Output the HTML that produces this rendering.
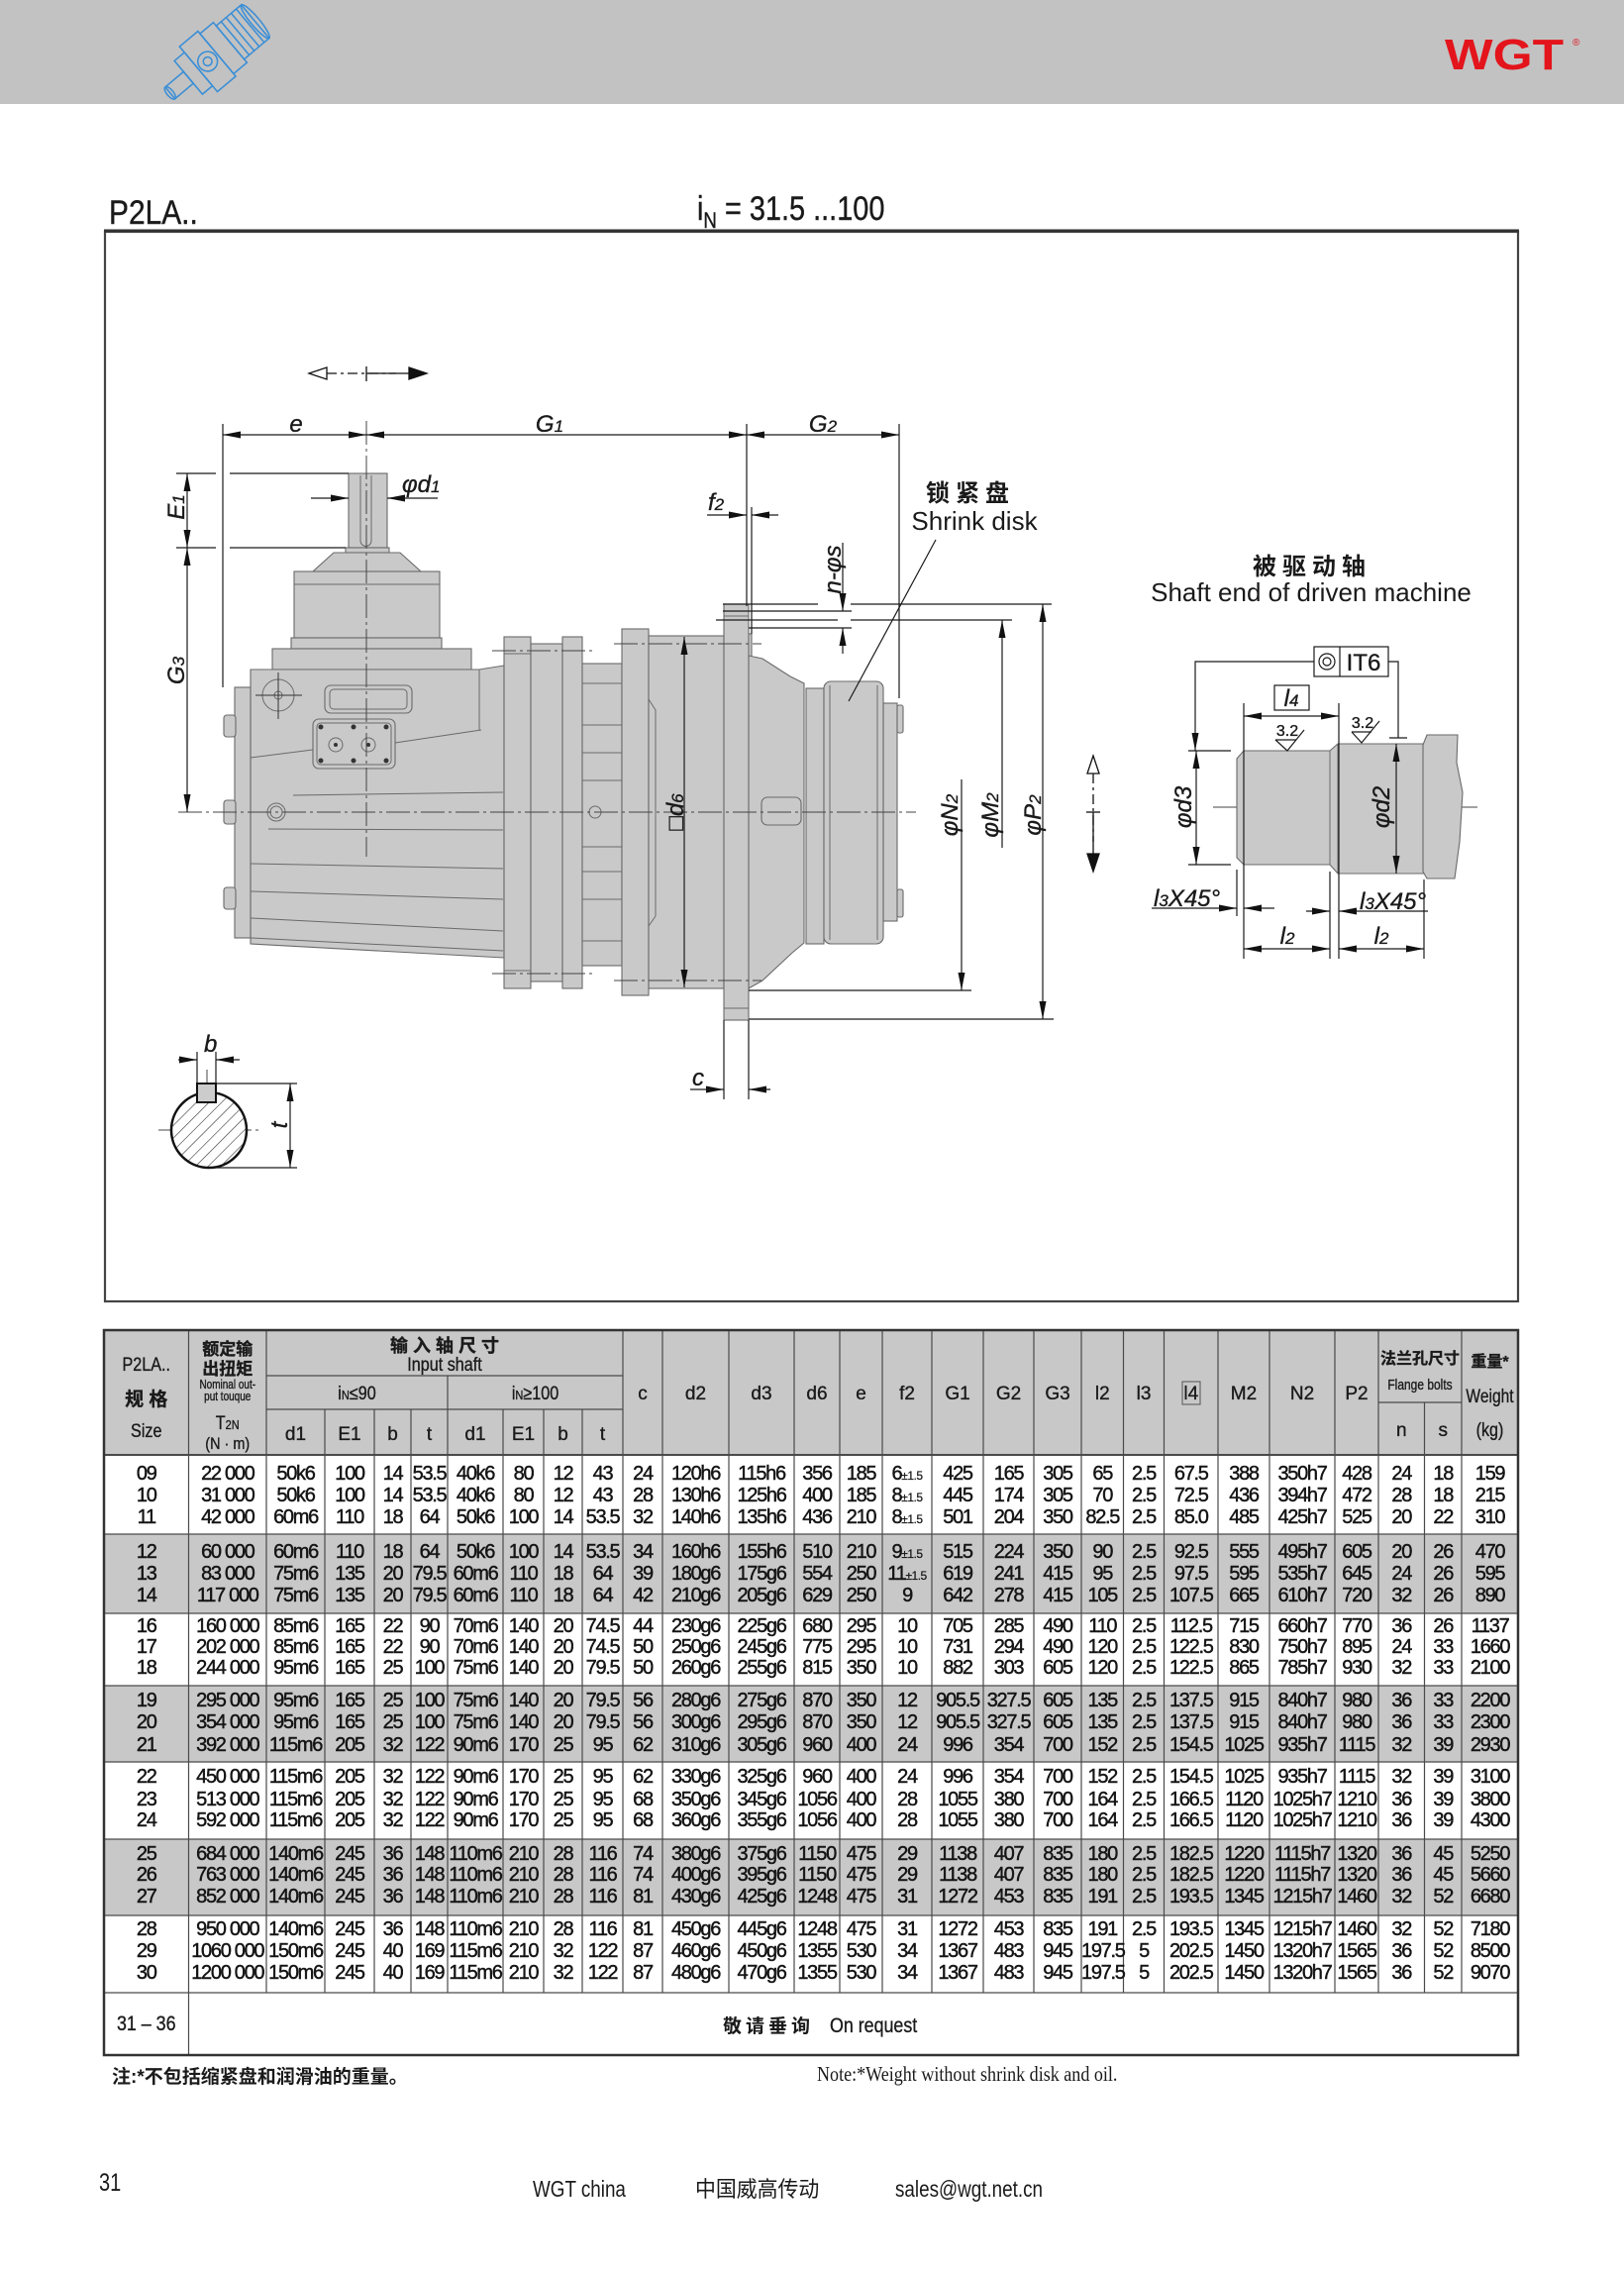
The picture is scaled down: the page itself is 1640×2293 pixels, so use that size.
<!DOCTYPE html>
<html><head><meta charset="utf-8">
<style>
html,body{margin:0;padding:0;background:#fff}
#pg{position:relative;width:1640px;height:2293px;overflow:hidden;background:#fff}
svg{position:absolute;left:0;top:0}
text{font-family:"Liberation Sans","Noto Sans CJK SC",sans-serif;fill:#1a1a1a}
.dt{font-style:italic;font-size:24px}
.hd text{stroke:#1a1a1a;stroke-width:0.35px}
.p{fill:#c9c9c9;stroke:#6a6a6a;stroke-width:1.1}
.row{position:absolute;left:105px;width:1428px;display:flex;height:22px;line-height:22px;font-family:"Liberation Sans",sans-serif;font-size:20px;letter-spacing:-1.3px;color:#141414;-webkit-text-stroke:0.45px #141414}
.row span{flex:none;text-align:center;white-space:nowrap}
.row small{font-size:12px;letter-spacing:-0.5px;-webkit-text-stroke:0.2px #141414}
.row span:nth-child(1){width:85.5px}.row span:nth-child(2){width:78.5px}.row span:nth-child(3){width:59px}.row span:nth-child(4){width:50px}
.row span:nth-child(5){width:37px}.row span:nth-child(6){width:37px}.row span:nth-child(7){width:56px}.row span:nth-child(8){width:41px}
.row span:nth-child(9){width:39px}.row span:nth-child(10){width:41px}.row span:nth-child(11){width:40px}.row span:nth-child(12){width:67px}
.row span:nth-child(13){width:66px}.row span:nth-child(14){width:46px}.row span:nth-child(15){width:43px}.row span:nth-child(16){width:50px}
.row span:nth-child(17){width:52px}.row span:nth-child(18){width:51px}.row span:nth-child(19){width:48px}.row span:nth-child(20){width:42.5px}
.row span:nth-child(21){width:41px}.row span:nth-child(22){width:54.5px}.row span:nth-child(23){width:52px}.row span:nth-child(24){width:66px}
.row span:nth-child(25){width:44px}.row span:nth-child(26){width:46.5px}.row span:nth-child(27){width:37.5px}.row span:nth-child(28){width:57px}
</style></head><body><div id="pg">
<svg width="1640" height="2293" viewBox="0 0 1640 2293">
<defs>
<marker id="ar" viewBox="0 0 18 7" refX="18" refY="3.5" markerWidth="18" markerHeight="7" markerUnits="userSpaceOnUse" orient="auto-start-reverse"><path d="M0,0L18,3.5L0,7z" fill="#111"/></marker>
<pattern id="hatch" patternUnits="userSpaceOnUse" width="9" height="9" patternTransform="rotate(45)"><rect width="9" height="9" fill="#fff"/><line x1="0" y1="0" x2="0" y2="9" stroke="#333" stroke-width="1.2"/></pattern>
</defs>

<!-- header band -->
<rect x="0" y="0" width="1640" height="105" fill="#c2c2c2"/>
<g transform="translate(224,50) rotate(-40) scale(1.1)" stroke="#3a8ed6" stroke-width="1.4" fill="none">
<rect x="-62" y="-7" width="22" height="14"/><ellipse cx="-62" cy="0" rx="3" ry="7"/>
<rect x="-40" y="-20" width="12" height="40"/><rect x="-28" y="-27" width="22" height="54"/>
<circle cx="-17" cy="0" r="9"/><circle cx="-17" cy="0" r="4"/><rect x="-6" y="-24" width="16" height="48"/>
<rect x="10" y="-20" width="30" height="40"/><line x1="16" y1="-20" x2="16" y2="20"/><line x1="22" y1="-20" x2="22" y2="20"/><line x1="28" y1="-20" x2="28" y2="20"/><line x1="34" y1="-20" x2="34" y2="20"/>
<ellipse cx="40" cy="0" rx="4" ry="20"/>
</g>
<text transform="translate(1459,70) scale(1.17,1)" font-size="44" font-weight="bold" style="fill:#e3141b">WGT</text>
<text x="1588" y="46" font-size="10" style="fill:#e3141b">®</text>

<!-- title -->
<text transform="translate(110,226) scale(0.88,1)" font-size="34" stroke="#1a1a1a" stroke-width="0.4">P2LA..</text>
<text transform="translate(704,222) scale(0.85,1)" font-size="34" stroke="#1a1a1a" stroke-width="0.4">i<tspan font-size="22" dy="8">N</tspan><tspan dy="-8"> = 31.5 ...100</tspan></text>

<!-- drawing frame -->
<rect x="106" y="234" width="1427" height="1080" fill="none" stroke="#444" stroke-width="2.2"/>
<line x1="105" y1="233" x2="1534" y2="233" stroke="#333" stroke-width="3"/>

<!-- ===== gearbox ===== -->
<g class="p">
<rect x="352" y="478" width="39" height="75"/>
<rect x="349" y="553" width="44" height="5"/>
<polygon points="337,558 404,558 425,577 316,577"/>
<rect x="297" y="577" width="147" height="67"/>
<rect x="294" y="644" width="152" height="11"/>
<rect x="275" y="655" width="201" height="21"/>
<polygon points="253,676 484,676 509,672 509,967 253,953"/>
<rect x="237" y="694" width="16" height="253"/>
<rect x="226" y="722" width="12" height="22" rx="3"/>
<rect x="226" y="808" width="12" height="24" rx="3"/>
<rect x="226" y="896" width="12" height="22" rx="3"/>
<rect x="509" y="643" width="27" height="355"/>
<rect x="536" y="650" width="32" height="341"/>
<rect x="568" y="643" width="20" height="355"/>
<rect x="588" y="670" width="40" height="305"/>
<rect x="628" y="635" width="27" height="370"/>
<rect x="655" y="642" width="76" height="356"/>
<rect x="754" y="640" width="5" height="26"/>
<polygon points="756,662 770,665 798,683 812,690 812,952 800,962 770,990 756,998"/>
<rect x="731" y="610" width="25" height="420"/>
<rect x="814" y="695" width="18" height="258"/>
<rect x="832" y="688" width="60" height="265" rx="7"/>
<rect x="892" y="710" width="14" height="220"/>
<rect x="906" y="712" width="6" height="28" rx="2"/>
<rect x="906" y="898" width="6" height="28" rx="2"/>
<rect x="769" y="805" width="40" height="28" rx="6"/>
<rect x="328" y="692" width="88" height="28" rx="6"/>
<rect x="316" y="726" width="83" height="50" rx="6"/>
</g>
<g fill="none" stroke="#6a6a6a" stroke-width="1">
<path d="M364,480 V546 a5.5,5.5 0 0 0 11,0 V480"/>
<line x1="297" y1="590" x2="444" y2="590"/>
<rect x="333" y="696" width="78" height="20" rx="4"/>
<rect x="320" y="730" width="75" height="42" rx="4"/>
<line x1="253" y1="765" x2="316" y2="757"/><line x1="399" y1="750" x2="486" y2="737"/><line x1="484" y1="676" x2="484" y2="737"/>
<line x1="296" y1="803" x2="508" y2="800"/><line x1="271" y1="837" x2="508" y2="838"/>
<line x1="253" y1="872" x2="508" y2="877"/><line x1="253" y1="900" x2="508" y2="908"/>
<line x1="253" y1="927" x2="508" y2="940"/><line x1="253" y1="947" x2="508" y2="960"/>
<line x1="509" y1="660" x2="536" y2="660"/><line x1="509" y1="980" x2="536" y2="980"/>
<line x1="588" y1="690" x2="628" y2="690"/><line x1="588" y1="732" x2="628" y2="732"/><line x1="588" y1="760" x2="628" y2="760"/>
<line x1="588" y1="788" x2="628" y2="788"/><line x1="588" y1="855" x2="628" y2="855"/><line x1="588" y1="880" x2="628" y2="880"/>
<line x1="588" y1="908" x2="628" y2="908"/><line x1="588" y1="950" x2="628" y2="950"/>
<polyline points="655,706 662,717 662,925 655,935"/>
<line x1="838" y1="692" x2="838" y2="949"/>
<line x1="886" y1="692" x2="886" y2="949"/>
<line x1="731" y1="622" x2="756" y2="622"/><line x1="731" y1="1018" x2="756" y2="1018"/>
<circle cx="281" cy="702" r="16"/><circle cx="281" cy="702" r="4"/>
<circle cx="279" cy="820" r="9"/><circle cx="279" cy="820" r="6"/>
<circle cx="339" cy="752" r="7"/><circle cx="372" cy="752" r="7"/>
<circle cx="601" cy="820" r="6"/>
</g>
<g stroke="#333" stroke-width="1"><line x1="258" y1="702" x2="305" y2="702"/><line x1="281" y1="679" x2="281" y2="726"/></g>
<g fill="#333"><circle cx="324" cy="734" r="2.5"/><circle cx="357" cy="734" r="2.5"/><circle cx="390" cy="734" r="2.5"/><circle cx="324" cy="768" r="2.5"/><circle cx="357" cy="768" r="2.5"/><circle cx="390" cy="768" r="2.5"/><circle cx="339" cy="752" r="2"/><circle cx="372" cy="752" r="2"/></g>

<!-- centerlines -->
<g stroke="#444" stroke-width="1" fill="none" stroke-dasharray="24 4 3 4">
<line x1="180" y1="820" x2="925" y2="820"/>
<line x1="370" y1="425" x2="370" y2="865"/>
<line x1="1225" y1="815" x2="1492" y2="815"/>
<line x1="160" y1="1141" x2="262" y2="1141"/>
<line x1="209" y1="1080" x2="209" y2="1100"/>
<line x1="497" y1="657" x2="600" y2="657"/><line x1="620" y1="650" x2="769" y2="650"/>
<line x1="497" y1="983" x2="600" y2="983"/><line x1="620" y1="990" x2="769" y2="990"/>
</g>

<!-- dimension lines -->
<g stroke="#1a1a1a" stroke-width="1.2" fill="none">
<line x1="225" y1="439" x2="370" y2="439" marker-start="url(#ar)" marker-end="url(#ar)"/>
<line x1="370" y1="439" x2="754" y2="439" marker-start="url(#ar)" marker-end="url(#ar)"/>
<line x1="754" y1="439" x2="908" y2="439" marker-start="url(#ar)" marker-end="url(#ar)"/>
<line x1="225" y1="428" x2="225" y2="694"/>
<line x1="754" y1="428" x2="754" y2="612"/>
<line x1="908" y1="428" x2="908" y2="705"/>
<line x1="189" y1="478" x2="189" y2="553" marker-start="url(#ar)" marker-end="url(#ar)"/>
<line x1="189" y1="553" x2="189" y2="820" marker-start="url(#ar)" marker-end="url(#ar)"/>
<line x1="178" y1="478" x2="218" y2="478"/><line x1="232" y1="478" x2="352" y2="478"/>
<line x1="178" y1="553" x2="218" y2="553"/><line x1="232" y1="553" x2="349" y2="553"/>
<line x1="314" y1="503" x2="352" y2="503" marker-end="url(#ar)"/>
<line x1="442" y1="503" x2="391" y2="503" marker-end="url(#ar)"/>
<line x1="714" y1="520" x2="754" y2="520" marker-end="url(#ar)"/>
<line x1="786" y1="520" x2="759" y2="520" marker-end="url(#ar)"/>
<line x1="759" y1="512" x2="759" y2="640"/>
<line x1="851" y1="548" x2="851" y2="617" marker-end="url(#ar)"/>
<line x1="851" y1="660" x2="851" y2="634" marker-end="url(#ar)"/>
<line x1="730" y1="610" x2="826" y2="610"/><line x1="859" y1="610" x2="1062" y2="610"/>
<line x1="730" y1="617" x2="860" y2="617"/>
<line x1="723" y1="626" x2="846" y2="626"/><line x1="859" y1="626" x2="1022" y2="626"/>
<line x1="756" y1="634" x2="860" y2="634"/>
<line x1="1053" y1="610" x2="1053" y2="1029" marker-start="url(#ar)" marker-end="url(#ar)"/>
<line x1="1012" y1="626" x2="1012" y2="856" marker-start="url(#ar)"/>
<line x1="971" y1="787" x2="971" y2="1000" marker-end="url(#ar)"/>
<line x1="756" y1="1000" x2="981" y2="1000"/>
<line x1="756" y1="1029" x2="1064" y2="1029"/>
<line x1="691" y1="643" x2="691" y2="997" marker-start="url(#ar)" marker-end="url(#ar)"/>
<line x1="731" y1="1030" x2="731" y2="1110"/><line x1="756" y1="1030" x2="756" y2="1110"/>
<line x1="697" y1="1100" x2="731" y2="1100" marker-end="url(#ar)"/>
<line x1="778" y1="1100" x2="756" y2="1100" marker-end="url(#ar)"/>
<line x1="945" y1="545" x2="857" y2="708"/>
<!-- key section -->
<line x1="199" y1="1062" x2="199" y2="1094"/><line x1="218" y1="1062" x2="218" y2="1094"/>
<line x1="180" y1="1070" x2="199" y2="1070" marker-end="url(#ar)"/>
<line x1="242" y1="1070" x2="218" y2="1070" marker-end="url(#ar)"/>
<line x1="218" y1="1094" x2="300" y2="1094"/><line x1="215" y1="1179" x2="300" y2="1179"/>
<line x1="293" y1="1094" x2="293" y2="1179" marker-start="url(#ar)" marker-end="url(#ar)"/>
</g>
<circle cx="211" cy="1141" r="38" fill="url(#hatch)" stroke="#111" stroke-width="2.5"/>
<rect x="199" y="1094" width="19" height="19" fill="#ccc" stroke="#111" stroke-width="2"/>

<!-- direction arrows -->
<g stroke="#111" stroke-width="1.3">
<polygon points="312,377 330,371 330,383" fill="#fff"/>
<line x1="330" y1="377" x2="400" y2="377" stroke-dasharray="10 4 3 4"/>
<line x1="370" y1="370" x2="370" y2="385"/>
<line x1="370" y1="377" x2="414" y2="377"/>
<polygon points="413,371 431,377 413,383" fill="#111"/>
<polygon points="1104,763 1098,781 1110,781" fill="#fff"/>
<line x1="1104" y1="781" x2="1104" y2="850" stroke-dasharray="10 4 3 4"/>
<line x1="1097" y1="820" x2="1111" y2="820"/>
<line x1="1104" y1="820" x2="1104" y2="864"/>
<polygon points="1098,862 1110,862 1104,880" fill="#111"/>
</g>

<!-- drawing labels -->
<g class="hd">
<text class="dt" x="299" y="436" text-anchor="middle">e</text>
<text class="dt" x="555" y="436" text-anchor="middle">G<tspan font-size="17">1</tspan></text>
<text class="dt" x="831" y="436" text-anchor="middle">G<tspan font-size="17">2</tspan></text>
<text class="dt" transform="translate(186,512) rotate(-90)" text-anchor="middle">E<tspan font-size="17">1</tspan></text>
<text class="dt" transform="translate(186,677) rotate(-90)" text-anchor="middle">G<tspan font-size="17">3</tspan></text>
<text class="dt" x="406" y="497">φd<tspan font-size="17">1</tspan></text>
<text class="dt" x="715" y="515">f<tspan font-size="17">2</tspan></text>
<text class="dt" transform="translate(849,575) rotate(-90)" text-anchor="middle">n-φs</text>
<text class="dt" transform="translate(690,820) rotate(-90)" text-anchor="middle">□d<tspan font-size="17">6</tspan></text>
<text class="dt" transform="translate(967,823) rotate(-90)" text-anchor="middle">φN<tspan font-size="17">2</tspan></text>
<text class="dt" transform="translate(1008,823) rotate(-90)" text-anchor="middle">φM<tspan font-size="17">2</tspan></text>
<text class="dt" transform="translate(1051,823) rotate(-90)" text-anchor="middle">φP<tspan font-size="17">2</tspan></text>
<text class="dt" x="699" y="1096">c</text>
<text class="dt" x="206" y="1062">b</text>
<text class="dt" transform="translate(290,1136) rotate(-90)" text-anchor="middle">t</text>
</g>
<text x="980" y="506" font-size="24" font-weight="bold" text-anchor="middle" letter-spacing="6">锁紧盘</text>
<text x="984" y="535" font-size="26" text-anchor="middle">Shrink disk</text>
<text x="1325" y="580" font-size="24" font-weight="bold" text-anchor="middle" letter-spacing="6">被驱动轴</text>
<text x="1324" y="607" font-size="26" text-anchor="middle">Shaft end of driven machine</text>

<!-- shaft end detail -->
<polygon class="p" points="1249,766 1256,758 1343,758 1351,751 1440,751 1440,882 1351,882 1343,873 1256,873 1249,866"/>
<polygon class="p" points="1437,752 1441,742 1472,742 1471,770 1477,800 1474,850 1469,887 1441,887 1437,880"/>
<g stroke="#6a6a6a" stroke-width="1"><line x1="1256" y1="758" x2="1256" y2="873"/><line x1="1343" y1="758" x2="1343" y2="873"/><line x1="1351" y1="751" x2="1351" y2="882"/></g>
<g stroke="#1a1a1a" stroke-width="1.2" fill="none">
<rect x="1327" y="653" width="75" height="30"/><line x1="1353" y1="653" x2="1353" y2="683"/>
<circle cx="1340" cy="668" r="8"/><circle cx="1340" cy="668" r="4"/>
<polyline points="1327,668 1207,668 1207,758" marker-end="url(#ar)"/>
<polyline points="1402,668 1412,668 1412,745"/><line x1="1403" y1="745" x2="1421" y2="745"/>
<rect x="1287" y="692" width="35" height="25"/>
<line x1="1256" y1="723" x2="1352" y2="723" marker-start="url(#ar)" marker-end="url(#ar)"/>
<line x1="1256" y1="710" x2="1256" y2="968"/><line x1="1352" y1="710" x2="1352" y2="968"/>
<line x1="1343" y1="880" x2="1343" y2="968"/><line x1="1438" y1="888" x2="1438" y2="968"/>
<line x1="1249" y1="878" x2="1249" y2="925"/>
<line x1="1208" y1="758" x2="1208" y2="873" marker-start="url(#ar)" marker-end="url(#ar)"/>
<line x1="1200" y1="758" x2="1243" y2="758"/><line x1="1200" y1="873" x2="1243" y2="873"/>
<line x1="1410" y1="751" x2="1410" y2="882" marker-start="url(#ar)" marker-end="url(#ar)"/>
<polyline points="1288,747 1300,758 1317,737"/><line x1="1288" y1="747" x2="1309" y2="747"/>
<polyline points="1365,739 1375,750 1393,728"/><line x1="1365" y1="739" x2="1385" y2="739"/>
<line x1="1163" y1="917" x2="1249" y2="917" marker-end="url(#ar)"/>
<line x1="1287" y1="917" x2="1256" y2="917" marker-end="url(#ar)"/>
<line x1="1319" y1="920" x2="1343" y2="920" marker-end="url(#ar)"/>
<line x1="1442" y1="920" x2="1352" y2="920" marker-end="url(#ar)"/>
<line x1="1256" y1="958" x2="1343" y2="958" marker-start="url(#ar)" marker-end="url(#ar)"/>
<line x1="1352" y1="958" x2="1438" y2="958" marker-start="url(#ar)" marker-end="url(#ar)"/>
</g>
<g class="hd">
<text x="1377" y="677" font-size="24" text-anchor="middle">IT6</text>
<text class="dt" x="1304" y="713" text-anchor="middle">l<tspan font-size="17">4</tspan></text>
<text x="1300" y="743" font-size="16" text-anchor="middle">3.2</text>
<text x="1376" y="735" font-size="16" text-anchor="middle">3.2</text>
<text class="dt" transform="translate(1203,815) rotate(-90)" text-anchor="middle">φd3</text>
<text class="dt" transform="translate(1403,815) rotate(-90)" text-anchor="middle">φd2</text>
<text class="dt" x="1165" y="915">l<tspan font-size="17">3</tspan>X45°</text>
<text class="dt" x="1373" y="918">l<tspan font-size="17">3</tspan>X45°</text>
<text class="dt" x="1300" y="953" text-anchor="middle">l<tspan font-size="17">2</tspan></text>
<text class="dt" x="1395" y="953" text-anchor="middle">l<tspan font-size="17">2</tspan></text>
</g>

<!-- ===== table ===== -->
<rect x="105" y="1343" width="1428" height="126" fill="#c8c8c8"/>
<rect x="105" y="1549" width="1428" height="80" fill="#c8c8c8"/>
<rect x="105" y="1702" width="1428" height="77" fill="#c8c8c8"/>
<rect x="105" y="1857" width="1428" height="77" fill="#c8c8c8"/>
<g stroke="#4a4a4a" stroke-width="1.2">
<line x1="190.5" y1="1343" x2="190.5" y2="2075"/>
<line x1="269" y1="1343" x2="269" y2="2012"/>
<line x1="328" y1="1423" x2="328" y2="2012"/><line x1="378" y1="1423" x2="378" y2="2012"/>
<line x1="415" y1="1423" x2="415" y2="2012"/><line x1="452" y1="1389" x2="452" y2="2012"/>
<line x1="508" y1="1423" x2="508" y2="2012"/><line x1="549" y1="1423" x2="549" y2="2012"/>
<line x1="588" y1="1423" x2="588" y2="2012"/><line x1="629" y1="1343" x2="629" y2="2012"/>
<line x1="669" y1="1343" x2="669" y2="2012"/><line x1="736" y1="1343" x2="736" y2="2012"/>
<line x1="802" y1="1343" x2="802" y2="2012"/><line x1="848" y1="1343" x2="848" y2="2012"/>
<line x1="891" y1="1343" x2="891" y2="2012"/><line x1="941" y1="1343" x2="941" y2="2012"/>
<line x1="993" y1="1343" x2="993" y2="2012"/><line x1="1044" y1="1343" x2="1044" y2="2012"/>
<line x1="1092" y1="1343" x2="1092" y2="2012"/><line x1="1134.5" y1="1343" x2="1134.5" y2="2012"/>
<line x1="1175.5" y1="1343" x2="1175.5" y2="2012"/><line x1="1230" y1="1343" x2="1230" y2="2012"/>
<line x1="1282" y1="1343" x2="1282" y2="2012"/><line x1="1348" y1="1343" x2="1348" y2="2012"/>
<line x1="1392" y1="1343" x2="1392" y2="2012"/><line x1="1438.5" y1="1416" x2="1438.5" y2="2012"/>
<line x1="1476" y1="1343" x2="1476" y2="2012"/>
<line x1="269" y1="1389" x2="629" y2="1389"/><line x1="269" y1="1423" x2="629" y2="1423"/>
<line x1="1392" y1="1416" x2="1476" y2="1416"/>
<line x1="105" y1="1469" x2="1533" y2="1469" stroke-width="2"/>
<line x1="105" y1="1549" x2="1533" y2="1549"/><line x1="105" y1="1629" x2="1533" y2="1629"/>
<line x1="105" y1="1702" x2="1533" y2="1702"/><line x1="105" y1="1779" x2="1533" y2="1779"/>
<line x1="105" y1="1857" x2="1533" y2="1857"/><line x1="105" y1="1934" x2="1533" y2="1934"/>
<line x1="105" y1="2012" x2="1533" y2="2012"/>
</g>
<rect x="105" y="1343" width="1428" height="732" fill="none" stroke="#333" stroke-width="2.5"/>
<rect x="1194" y="1395" width="18" height="23" fill="none" stroke="#555" stroke-width="1"/>

<!-- table header text -->
<g class="hd" text-anchor="middle" font-size="19">
<text transform="translate(147.75,1384) scale(0.85,1)">P2LA..</text>
<text x="147.75" y="1419" font-weight="bold">规 格</text>
<text transform="translate(147.75,1451) scale(0.85,1)">Size</text>
<text x="229.75" y="1368" font-size="17" font-weight="bold">额定输</text>
<text x="229.75" y="1388" font-size="17" font-weight="bold">出扭矩</text>
<text transform="translate(229.75,1402) scale(0.8,1)" font-size="12.5">Nominal out-</text>
<text transform="translate(229.75,1414) scale(0.8,1)" font-size="12.5">put touque</text>
<text transform="translate(229.75,1443) scale(0.85,1)" font-size="19">T<tspan font-size="13">2N</tspan></text>
<text transform="translate(229.75,1463) scale(0.85,1)" font-size="17">(N · m)</text>
<text x="449" y="1365" font-size="18" font-weight="bold">输 入 轴 尺 寸</text>
<text transform="translate(449,1384) scale(0.85,1)" font-size="19">Input shaft</text>
<text transform="translate(360.5,1413) scale(0.85,1)">i<tspan font-size="13">N</tspan>≤90</text>
<text transform="translate(540.5,1413) scale(0.85,1)">i<tspan font-size="13">N</tspan>≥100</text>
<text x="298.5" y="1454">d1</text><text x="353" y="1454">E1</text><text x="396.5" y="1454">b</text><text x="433.5" y="1454">t</text>
<text x="480" y="1454">d1</text><text x="528.5" y="1454">E1</text><text x="568.5" y="1454">b</text><text x="608.5" y="1454">t</text>
<text x="649" y="1413">c</text><text x="702.5" y="1413">d2</text><text x="769" y="1413">d3</text><text x="825" y="1413">d6</text>
<text x="869.5" y="1413">e</text><text x="916" y="1413">f2</text><text x="967" y="1413">G1</text><text x="1018.5" y="1413">G2</text>
<text x="1068" y="1413">G3</text><text x="1113.25" y="1413">l2</text><text x="1155" y="1413">l3</text><text x="1202.75" y="1413">l4</text>
<text x="1256" y="1413">M2</text><text x="1315" y="1413">N2</text><text x="1370" y="1413">P2</text>
<text x="1415.25" y="1450">n</text><text x="1457.25" y="1450">s</text>
<text x="1434" y="1377" font-size="16" font-weight="bold">法兰孔尺寸</text>
<text transform="translate(1434,1403) scale(0.8,1)" font-size="15">Flange bolts</text>
<text x="1504.5" y="1380" font-size="16" font-weight="bold">重量*</text>
<text transform="translate(1504.5,1416) scale(0.82,1)" font-size="19">Weight</text>
<text transform="translate(1504.5,1450) scale(0.85,1)" font-size="19">(kg)</text>
<text transform="translate(147.75,2050) scale(0.85,1)" font-size="21">31 – 36</text>
</g>
<text x="730" y="2052" font-size="19" font-weight="bold" letter-spacing="4">敬请垂询</text>
<text transform="translate(838,2052) scale(0.85,1)" font-size="21" stroke="#1a1a1a" stroke-width="0.35">On request</text>

<!-- notes & footer -->
<text x="113" y="2103" font-size="19" font-weight="bold" font-family="Noto Sans CJK SC, sans-serif">注:*不包括缩紧盘和润滑油的重量。</text>
<text transform="translate(825,2101) scale(0.86,1)" font-size="21" style="font-family:'Liberation Serif',serif">Note:*Weight without shrink disk and oil.</text>
<text transform="translate(100,2212) scale(0.8,1)" font-size="25">31</text>
<text transform="translate(538,2218) scale(0.82,1)" font-size="23">WGT china</text>
<text transform="translate(702,2218) scale(0.95,1)" font-size="22">中国威高传动</text>
<text transform="translate(904,2218) scale(0.82,1)" font-size="23">sales@wgt.net.cn</text>
</svg>

<!-- table data rows -->
<div class="row" style="top:1477px"><span>09</span><span>22 000</span><span>50k6</span><span>100</span><span>14</span><span>53.5</span><span>40k6</span><span>80</span><span>12</span><span>43</span><span>24</span><span>120h6</span><span>115h6</span><span>356</span><span>185</span><span>6<small>±1.5</small></span><span>425</span><span>165</span><span>305</span><span>65</span><span>2.5</span><span>67.5</span><span>388</span><span>350h7</span><span>428</span><span>24</span><span>18</span><span>159</span></div>
<div class="row" style="top:1499px"><span>10</span><span>31 000</span><span>50k6</span><span>100</span><span>14</span><span>53.5</span><span>40k6</span><span>80</span><span>12</span><span>43</span><span>28</span><span>130h6</span><span>125h6</span><span>400</span><span>185</span><span>8<small>±1.5</small></span><span>445</span><span>174</span><span>305</span><span>70</span><span>2.5</span><span>72.5</span><span>436</span><span>394h7</span><span>472</span><span>28</span><span>18</span><span>215</span></div>
<div class="row" style="top:1521px"><span>11</span><span>42 000</span><span>60m6</span><span>110</span><span>18</span><span>64</span><span>50k6</span><span>100</span><span>14</span><span>53.5</span><span>32</span><span>140h6</span><span>135h6</span><span>436</span><span>210</span><span>8<small>±1.5</small></span><span>501</span><span>204</span><span>350</span><span>82.5</span><span>2.5</span><span>85.0</span><span>485</span><span>425h7</span><span>525</span><span>20</span><span>22</span><span>310</span></div>
<div class="row" style="top:1556px"><span>12</span><span>60 000</span><span>60m6</span><span>110</span><span>18</span><span>64</span><span>50k6</span><span>100</span><span>14</span><span>53.5</span><span>34</span><span>160h6</span><span>155h6</span><span>510</span><span>210</span><span>9<small>±1.5</small></span><span>515</span><span>224</span><span>350</span><span>90</span><span>2.5</span><span>92.5</span><span>555</span><span>495h7</span><span>605</span><span>20</span><span>26</span><span>470</span></div>
<div class="row" style="top:1578px"><span>13</span><span>83 000</span><span>75m6</span><span>135</span><span>20</span><span>79.5</span><span>60m6</span><span>110</span><span>18</span><span>64</span><span>39</span><span>180g6</span><span>175g6</span><span>554</span><span>250</span><span>11<small>±1.5</small></span><span>619</span><span>241</span><span>415</span><span>95</span><span>2.5</span><span>97.5</span><span>595</span><span>535h7</span><span>645</span><span>24</span><span>26</span><span>595</span></div>
<div class="row" style="top:1600px"><span>14</span><span>117 000</span><span>75m6</span><span>135</span><span>20</span><span>79.5</span><span>60m6</span><span>110</span><span>18</span><span>64</span><span>42</span><span>210g6</span><span>205g6</span><span>629</span><span>250</span><span>9</span><span>642</span><span>278</span><span>415</span><span>105</span><span>2.5</span><span>107.5</span><span>665</span><span>610h7</span><span>720</span><span>32</span><span>26</span><span>890</span></div>
<div class="row" style="top:1631px"><span>16</span><span>160 000</span><span>85m6</span><span>165</span><span>22</span><span>90</span><span>70m6</span><span>140</span><span>20</span><span>74.5</span><span>44</span><span>230g6</span><span>225g6</span><span>680</span><span>295</span><span>10</span><span>705</span><span>285</span><span>490</span><span>110</span><span>2.5</span><span>112.5</span><span>715</span><span>660h7</span><span>770</span><span>36</span><span>26</span><span>1137</span></div>
<div class="row" style="top:1652px"><span>17</span><span>202 000</span><span>85m6</span><span>165</span><span>22</span><span>90</span><span>70m6</span><span>140</span><span>20</span><span>74.5</span><span>50</span><span>250g6</span><span>245g6</span><span>775</span><span>295</span><span>10</span><span>731</span><span>294</span><span>490</span><span>120</span><span>2.5</span><span>122.5</span><span>830</span><span>750h7</span><span>895</span><span>24</span><span>33</span><span>1660</span></div>
<div class="row" style="top:1673px"><span>18</span><span>244 000</span><span>95m6</span><span>165</span><span>25</span><span>100</span><span>75m6</span><span>140</span><span>20</span><span>79.5</span><span>50</span><span>260g6</span><span>255g6</span><span>815</span><span>350</span><span>10</span><span>882</span><span>303</span><span>605</span><span>120</span><span>2.5</span><span>122.5</span><span>865</span><span>785h7</span><span>930</span><span>32</span><span>33</span><span>2100</span></div>
<div class="row" style="top:1706px"><span>19</span><span>295 000</span><span>95m6</span><span>165</span><span>25</span><span>100</span><span>75m6</span><span>140</span><span>20</span><span>79.5</span><span>56</span><span>280g6</span><span>275g6</span><span>870</span><span>350</span><span>12</span><span>905.5</span><span>327.5</span><span>605</span><span>135</span><span>2.5</span><span>137.5</span><span>915</span><span>840h7</span><span>980</span><span>36</span><span>33</span><span>2200</span></div>
<div class="row" style="top:1728px"><span>20</span><span>354 000</span><span>95m6</span><span>165</span><span>25</span><span>100</span><span>75m6</span><span>140</span><span>20</span><span>79.5</span><span>56</span><span>300g6</span><span>295g6</span><span>870</span><span>350</span><span>12</span><span>905.5</span><span>327.5</span><span>605</span><span>135</span><span>2.5</span><span>137.5</span><span>915</span><span>840h7</span><span>980</span><span>36</span><span>33</span><span>2300</span></div>
<div class="row" style="top:1751px"><span>21</span><span>392 000</span><span>115m6</span><span>205</span><span>32</span><span>122</span><span>90m6</span><span>170</span><span>25</span><span>95</span><span>62</span><span>310g6</span><span>305g6</span><span>960</span><span>400</span><span>24</span><span>996</span><span>354</span><span>700</span><span>152</span><span>2.5</span><span>154.5</span><span>1025</span><span>935h7</span><span>1115</span><span>32</span><span>39</span><span>2930</span></div>
<div class="row" style="top:1783px"><span>22</span><span>450 000</span><span>115m6</span><span>205</span><span>32</span><span>122</span><span>90m6</span><span>170</span><span>25</span><span>95</span><span>62</span><span>330g6</span><span>325g6</span><span>960</span><span>400</span><span>24</span><span>996</span><span>354</span><span>700</span><span>152</span><span>2.5</span><span>154.5</span><span>1025</span><span>935h7</span><span>1115</span><span>32</span><span>39</span><span>3100</span></div>
<div class="row" style="top:1806px"><span>23</span><span>513 000</span><span>115m6</span><span>205</span><span>32</span><span>122</span><span>90m6</span><span>170</span><span>25</span><span>95</span><span>68</span><span>350g6</span><span>345g6</span><span>1056</span><span>400</span><span>28</span><span>1055</span><span>380</span><span>700</span><span>164</span><span>2.5</span><span>166.5</span><span>1120</span><span>1025h7</span><span>1210</span><span>36</span><span>39</span><span>3800</span></div>
<div class="row" style="top:1827px"><span>24</span><span>592 000</span><span>115m6</span><span>205</span><span>32</span><span>122</span><span>90m6</span><span>170</span><span>25</span><span>95</span><span>68</span><span>360g6</span><span>355g6</span><span>1056</span><span>400</span><span>28</span><span>1055</span><span>380</span><span>700</span><span>164</span><span>2.5</span><span>166.5</span><span>1120</span><span>1025h7</span><span>1210</span><span>36</span><span>39</span><span>4300</span></div>
<div class="row" style="top:1861px"><span>25</span><span>684 000</span><span>140m6</span><span>245</span><span>36</span><span>148</span><span>110m6</span><span>210</span><span>28</span><span>116</span><span>74</span><span>380g6</span><span>375g6</span><span>1150</span><span>475</span><span>29</span><span>1138</span><span>407</span><span>835</span><span>180</span><span>2.5</span><span>182.5</span><span>1220</span><span>1115h7</span><span>1320</span><span>36</span><span>45</span><span>5250</span></div>
<div class="row" style="top:1882px"><span>26</span><span>763 000</span><span>140m6</span><span>245</span><span>36</span><span>148</span><span>110m6</span><span>210</span><span>28</span><span>116</span><span>74</span><span>400g6</span><span>395g6</span><span>1150</span><span>475</span><span>29</span><span>1138</span><span>407</span><span>835</span><span>180</span><span>2.5</span><span>182.5</span><span>1220</span><span>1115h7</span><span>1320</span><span>36</span><span>45</span><span>5660</span></div>
<div class="row" style="top:1904px"><span>27</span><span>852 000</span><span>140m6</span><span>245</span><span>36</span><span>148</span><span>110m6</span><span>210</span><span>28</span><span>116</span><span>81</span><span>430g6</span><span>425g6</span><span>1248</span><span>475</span><span>31</span><span>1272</span><span>453</span><span>835</span><span>191</span><span>2.5</span><span>193.5</span><span>1345</span><span>1215h7</span><span>1460</span><span>32</span><span>52</span><span>6680</span></div>
<div class="row" style="top:1937px"><span>28</span><span>950 000</span><span>140m6</span><span>245</span><span>36</span><span>148</span><span>110m6</span><span>210</span><span>28</span><span>116</span><span>81</span><span>450g6</span><span>445g6</span><span>1248</span><span>475</span><span>31</span><span>1272</span><span>453</span><span>835</span><span>191</span><span>2.5</span><span>193.5</span><span>1345</span><span>1215h7</span><span>1460</span><span>32</span><span>52</span><span>7180</span></div>
<div class="row" style="top:1959px"><span>29</span><span>1060 000</span><span>150m6</span><span>245</span><span>40</span><span>169</span><span>115m6</span><span>210</span><span>32</span><span>122</span><span>87</span><span>460g6</span><span>450g6</span><span>1355</span><span>530</span><span>34</span><span>1367</span><span>483</span><span>945</span><span>197.5</span><span>5</span><span>202.5</span><span>1450</span><span>1320h7</span><span>1565</span><span>36</span><span>52</span><span>8500</span></div>
<div class="row" style="top:1981px"><span>30</span><span>1200 000</span><span>150m6</span><span>245</span><span>40</span><span>169</span><span>115m6</span><span>210</span><span>32</span><span>122</span><span>87</span><span>480g6</span><span>470g6</span><span>1355</span><span>530</span><span>34</span><span>1367</span><span>483</span><span>945</span><span>197.5</span><span>5</span><span>202.5</span><span>1450</span><span>1320h7</span><span>1565</span><span>36</span><span>52</span><span>9070</span></div>
</div></body></html>
